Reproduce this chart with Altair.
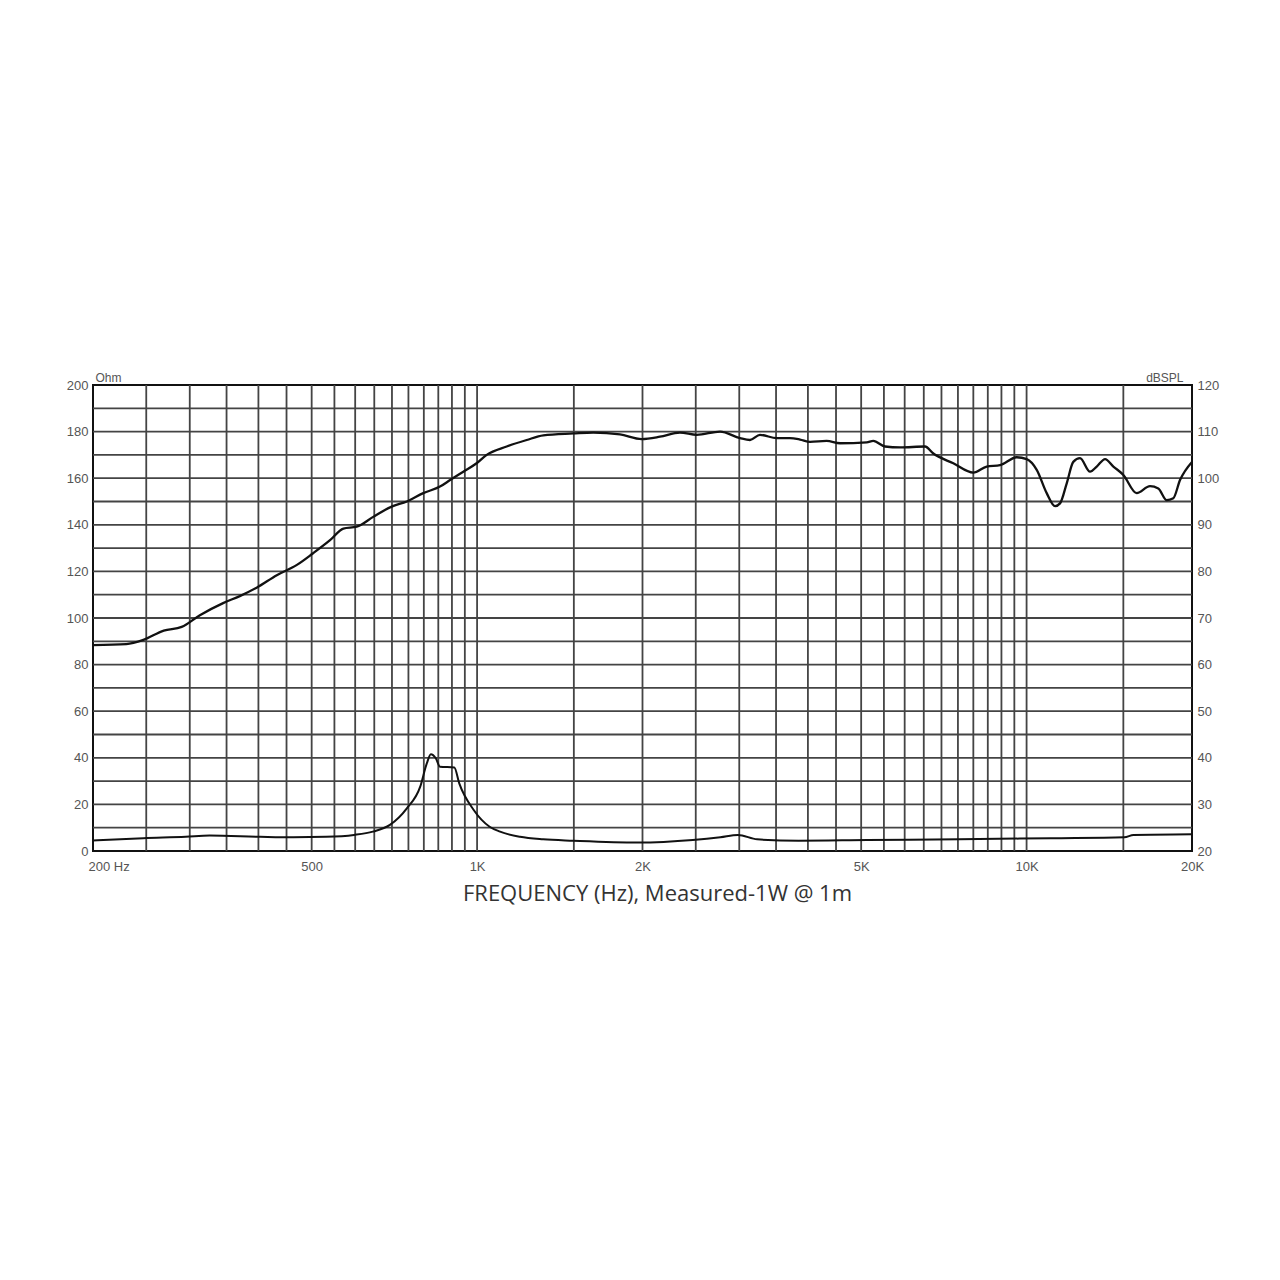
import altair as alt
import pandas as pd

# ---------------- data ----------------
spl_freq = [200, 230, 247, 269, 290, 313, 345, 370, 397, 432, 470, 503, 540, 571, 604,
            647, 699, 745, 798, 856, 893, 944, 998, 1041, 1132, 1231, 1320, 1497, 1627,
            1820, 1993, 2152, 2340, 2510, 2768, 3010, 3138, 3272, 3510, 3710, 3870, 4036,
            4326, 4576, 5118, 5260, 5526, 5884, 6534, 6766, 7356, 8000, 8460, 8948, 9594,
            10006, 10434, 10880, 11266, 11504, 11832, 12162, 12510, 13046, 13418, 13894,
            14386, 15000, 15862, 16774, 17366, 17990, 18494, 19020, 20000]
spl_db = [64.2, 64.4, 65.3, 67.3, 68.1, 70.6, 73.2, 74.7, 76.5, 79.2, 81.4, 83.9, 86.7, 89.2, 89.6,
          91.7, 93.9, 95.0, 96.8, 98.2, 99.6, 101.4, 103.2, 105.0, 106.8, 108.2, 109.2, 109.6, 109.8,
          109.4, 108.4, 108.9, 109.8, 109.3, 110.0, 108.6, 108.2, 109.3, 108.6, 108.6, 108.3, 107.8,
          108.0, 107.5, 107.7, 108.0, 106.8, 106.6, 106.8, 105.3, 103.2, 101.2, 102.5, 102.8, 104.5,
          104.1, 101.8, 96.8, 94.0, 94.6, 98.9, 103.5, 104.3, 101.4, 102.5, 104.1,
          102.5, 100.7, 96.8, 98.3, 97.8, 95.3, 95.7, 99.6, 103.5]

imp_freq = [200, 247, 295, 326, 403, 463, 531, 597, 646, 694, 745, 788, 810, 824, 841,
            856, 909, 928, 986, 1054, 1101, 1197, 1319, 1497, 1960, 2469, 2772, 2983,
            3233, 3843, 5130, 7538, 11075, 15066, 15654, 20000]
imp_ohm = [4.5, 5.5, 6.1, 6.6, 6.1, 5.9, 6.1, 6.9, 8.3, 11.2, 18.3, 27.6, 37.6, 41.5, 39.8,
           36.2, 35.8, 29.0, 17.6, 10.4, 8.3, 6.1, 5.0, 4.4, 3.6, 4.7, 5.9, 6.9,
           5.0, 4.4, 4.7, 5.0, 5.5, 5.9, 6.9, 7.2]

grid_freq = [250, 300, 350, 400, 450, 500, 550, 600, 650, 700, 750, 800, 850, 900, 950, 1000,
             1500, 2000, 2500, 3000, 3500, 4000, 4500, 5000, 5500, 6000, 6500, 7000, 7500,
             8000, 8500, 9000, 9500, 10000, 15000]
grid_ohm = [10, 20, 30, 40, 50, 60, 70, 80, 90, 100, 110, 120, 130, 140, 150, 160, 170, 180, 190]

x_tick_values = [200, 500, 1000, 2000, 5000, 10000, 20000]
x_tick_labels = ["200 Hz", "500", "1K", "2K", "5K", "10K", "20K"]
ohm_ticks = [0, 20, 40, 60, 80, 100, 120, 140, 160, 180, 200]
db_ticks = [20, 30, 40, 50, 60, 70, 80, 90, 100, 110, 120]

# ---------------- styling ----------------
LABEL_FONT = "Liberation Sans, Arial, sans-serif"
LABEL_COLOR = "#555555"
GRID_COLOR = "#444444"

label_expr = ""
for v, t in zip(x_tick_values, x_tick_labels):
    label_expr += f"datum.value == {v} ? '{t}' : "
label_expr += "''"

x_scale = alt.Scale(type="log", domain=[200, 20000], nice=False)
ohm_scale = alt.Scale(domain=[0, 200], nice=False)
db_scale = alt.Scale(domain=[20, 120], nice=False)

x_axis = alt.Axis(
    values=x_tick_values, labelExpr=label_expr, ticks=False, domain=False, grid=False,
    labelPadding=9, labelFont=LABEL_FONT, labelFontSize=13, labelColor=LABEL_COLOR,
    labelAlign={"condition": {"test": "datum.value == 200", "value": "left"}, "value": "center"},
    labelOffset={"condition": {"test": "datum.value == 200", "value": -5}, "value": 0},
    title="FREQUENCY (Hz), Measured-1W @ 1m", titleFont="Open Sans", titleFontSize=22,
    titleFontWeight="normal", titleColor="#333333", titleX=564, titleY=32,
    titleAlign="center", titleBaseline="top",
)

ohm_axis = alt.Axis(
    values=ohm_ticks, ticks=False, domain=False, grid=False, labelPadding=5,
    labelFont=LABEL_FONT, labelFontSize=13, labelColor=LABEL_COLOR,
    title="Ohm", titleAngle=0, titleAlign="left", titleBaseline="alphabetic",
    titleX=2, titleY=-4, titleFont=LABEL_FONT, titleFontSize=12, titleFontWeight="normal",
    titleColor=LABEL_COLOR,
)

db_axis = alt.Axis(
    orient="right", values=db_ticks, ticks=False, domain=False, grid=False, labelPadding=5,
    labelFont=LABEL_FONT, labelFontSize=13, labelColor=LABEL_COLOR,
    title="dBSPL", titleAngle=0, titleAlign="right", titleBaseline="alphabetic",
    titleX=-9, titleY=-4, titleFont=LABEL_FONT, titleFontSize=12, titleFontWeight="normal",
    titleColor=LABEL_COLOR,
)

spl_df = pd.DataFrame({"f": spl_freq, "db": spl_db})
imp_df = pd.DataFrame({"f": imp_freq, "ohm": imp_ohm})
vgrid_df = pd.DataFrame({"f": grid_freq})
hgrid_df = pd.DataFrame({"ohm": grid_ohm})

vgrid = alt.Chart(vgrid_df).mark_rule(color=GRID_COLOR, strokeWidth=1.8).encode(
    x=alt.X("f:Q", scale=x_scale, axis=x_axis),
)
hgrid = alt.Chart(hgrid_df).mark_rule(color=GRID_COLOR, strokeWidth=1.8).encode(
    y=alt.Y("ohm:Q", scale=ohm_scale, axis=ohm_axis),
)
imp_line = alt.Chart(imp_df).mark_line(color="#111111", strokeWidth=2, interpolate="monotone").encode(
    x=alt.X("f:Q", scale=x_scale, axis=x_axis),
    y=alt.Y("ohm:Q", scale=ohm_scale, axis=ohm_axis),
)
spl_line = alt.Chart(spl_df).mark_line(color="#111111", strokeWidth=2.3, interpolate="monotone").encode(
    x=alt.X("f:Q", scale=x_scale, axis=x_axis),
    y=alt.Y("db:Q", scale=db_scale, axis=db_axis),
)

left = alt.layer(vgrid, hgrid, imp_line)
chart = alt.layer(left, spl_line).resolve_scale(y="independent").properties(
    width=1099, height=466,
    padding={"left": 85, "top": 377, "right": 80, "bottom": 120},
    autosize=alt.AutoSizeParams(type="none"),
    background="white",
).configure_view(stroke="#111111", strokeWidth=2)

chart.save("out.html", embed_options={"renderer": "svg", "actions": False})
